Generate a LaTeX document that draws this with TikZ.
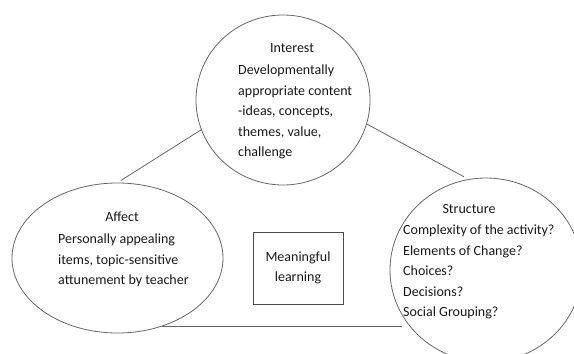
\documentclass[tikz,border=0pt]{standalone}
\usepackage{fontspec}
\setmainfont{Carlito}
\usetikzlibrary{shapes.geometric}

\begin{document}
\begin{tikzpicture}[x=1pt,y=-1pt,
    bubble/.style={draw=black!60, line width=0.8pt, ellipse, inner sep=0pt},
    link/.style={draw=black!60, line width=0.8pt},
    txt/.style={font=\fontsize{14}{20.5}\selectfont, text=black!90, inner sep=0pt, align=left},
    heading/.style={txt, anchor=base},
    bodytext/.style={txt, anchor=north west},
    learnbox/.style={draw=black!70, line width=0.8pt, minimum width=90pt, minimum height=72pt, txt, align=center}
]
\useasboundingbox (0,0) rectangle (574,354);

% bubbles
\node[bubble, minimum width=174pt, minimum height=170pt] (interest) at (283,100) {};
\node[bubble, minimum width=211pt, minimum height=150pt] (affect) at (117.5,258) {};
\node[bubble, minimum width=192pt, minimum height=184pt] (structure) at (486,270) {};

% texts
\node[heading] (interesthead) at (292,52.5) {Interest};
\node[bodytext] (interestbody) at (238,65) {Developmentally\\appropriate content\\-ideas, concepts,\\themes, value,\\challenge};

\node[heading] (affecthead) at (122,221.5) {Affect};
\node[bodytext] (affectbody) at (58,234) {Personally appealing\\items, topic-sensitive\\attunement by teacher};

\node[heading] (structurehead) at (469,213.5) {Structure};
\node[bodytext] (structurebody) at (403,225) {Complexity of the activity?\\Elements of Change?\\Choices?\\Decisions?\\Social Grouping?};

\node[learnbox] (learn) at (298,268) {Meaningful\\learning};

% links
\draw[link, shorten >=4pt] (interest.200) -- (affect.90);
\draw[link, shorten >=5pt] (interest.344) -- (structure.101);
\draw[link] (affect.-57) -- ([xshift=12pt]affect.-57 -| structure.west);

\end{tikzpicture}
\end{document}
